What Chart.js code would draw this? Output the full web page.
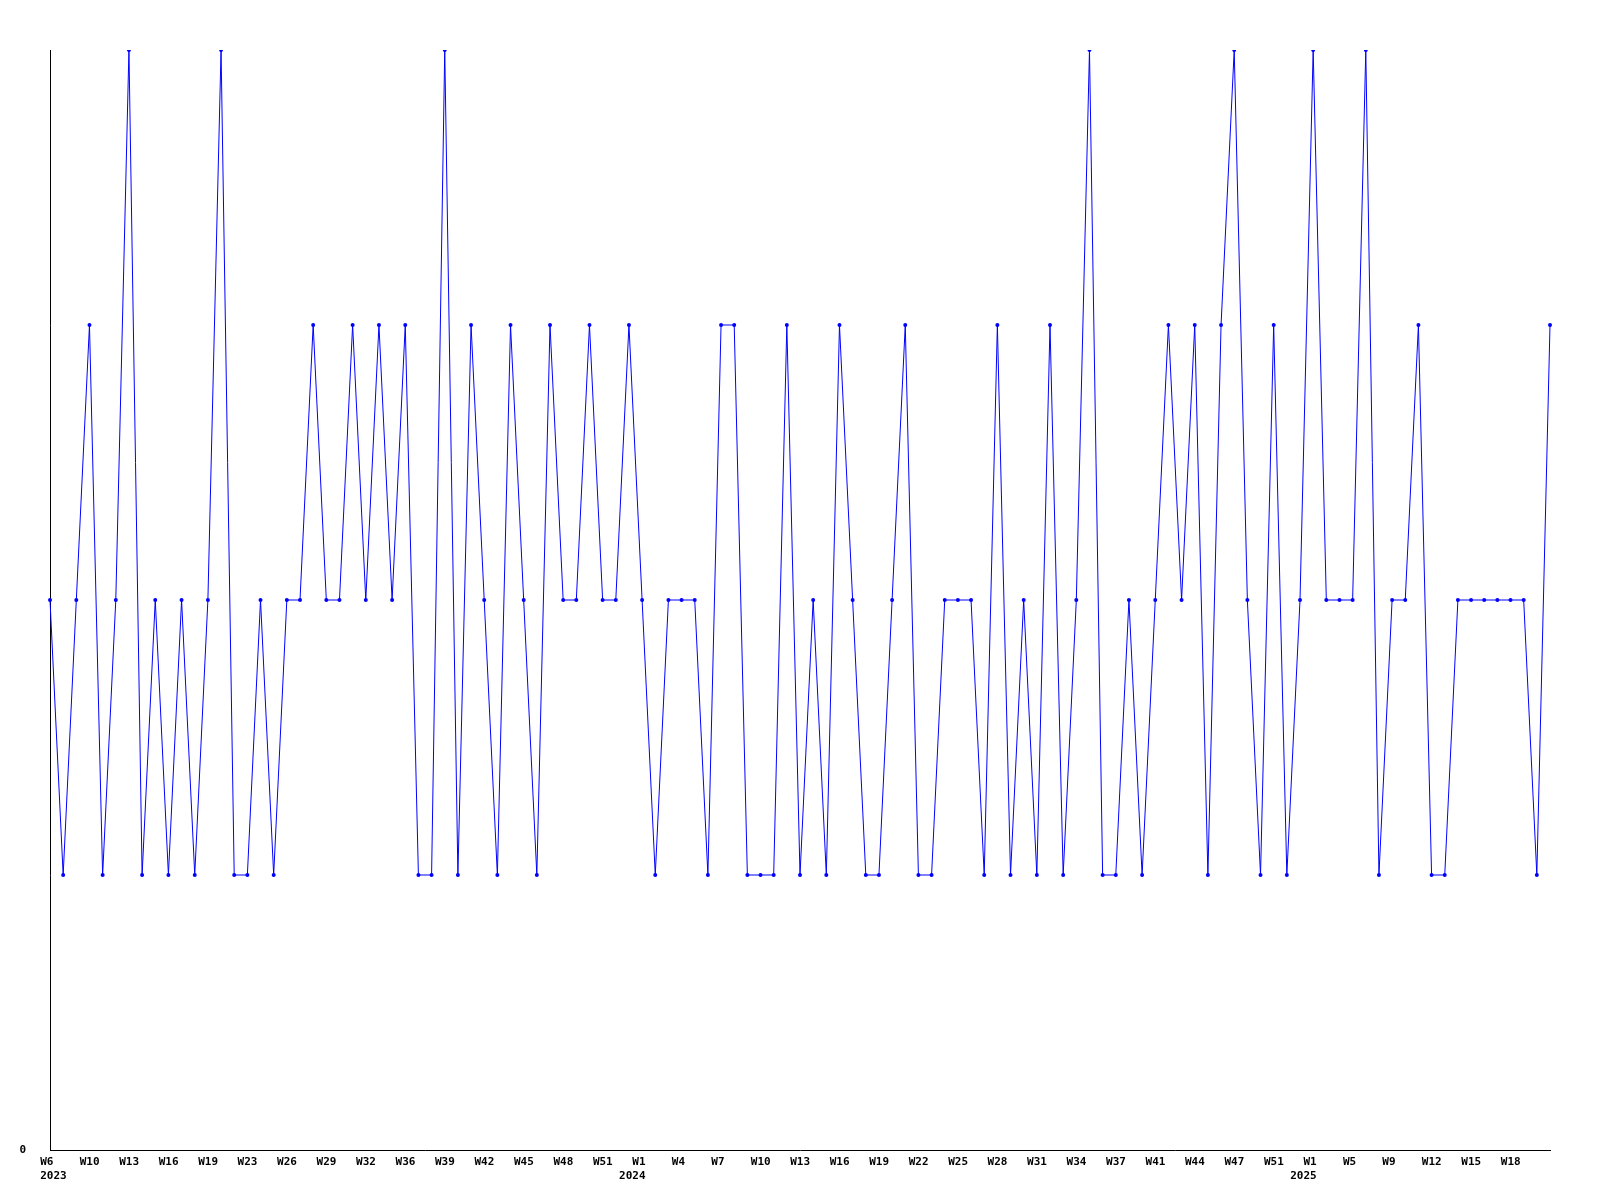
<!DOCTYPE html>
<html>
<head>
<meta charset="utf-8">
<title>Weekly chart</title>
<script src="https://cdn.jsdelivr.net/npm/chart.js@4.4.1/dist/chart.umd.min.js"></script>
<style>
  body { margin: 0; background: #fff; }
  #wrap { width: 1600px; height: 1200px; }
</style>
</head>
<body>
<div id="wrap"><canvas id="myChart" width="1600" height="1200"></canvas></div>
<script>
// tick labels, one for every third week point
const tickLabels = [
    'W6', 'W10', 'W13', 'W16', 'W19', 'W23', 'W26', 'W29', 'W32', 'W36', 'W39', 'W42', 'W45', 'W48', 'W51',
    'W1', 'W4', 'W7', 'W10', 'W13', 'W16', 'W19', 'W22', 'W25', 'W28', 'W31', 'W34', 'W37', 'W41', 'W44', 'W47', 'W51',
    'W1', 'W5', 'W9', 'W12', 'W15', 'W18'
];
// year shown under the tick label with this index
const years = ['2023', '2024', '2025'];
const yearAt = [0, 15, 32];

// values per week
const values = [
    2, 1, 2, 3, 1, 2, 4, 1, 2, 1, 2, 1, 2, 4, 1, 1, 2, 1, 2, 2,
    3, 2, 2, 3, 2, 3, 2, 3, 1, 1, 4, 1, 3, 2, 1, 3, 2, 1, 3, 2,
    2, 3, 2, 2, 3, 2, 1, 2, 2, 2, 1, 3, 3, 1, 1, 1, 3, 1, 2, 1,
    3, 2, 1, 1, 2, 3, 1, 1, 2, 2, 2, 1, 3, 1, 2, 1, 3, 1, 2, 4,
    1, 1, 2, 1, 2, 3, 2, 3, 1, 3, 4, 2, 1, 3, 1, 2, 4, 2, 2, 2,
    4, 1, 2, 2, 3, 1, 1, 2, 2, 2, 2, 2, 2, 1, 3
];

// build category labels: every third point gets a label, year line where needed
let labels = [];
for (let i = 0; i < values.length; i++) {
    let k = i / 3;
    if (i % 3 !== 0 || k >= tickLabels.length) { labels.push(''); continue; }
    let y = yearAt.indexOf(k);
    if (y === -1) {
        labels.push('  ' + tickLabels[k]);
    } else if (k === 0) {
        labels.push(['  ' + tickLabels[k], '  ' + years[y]]);
    } else {
        labels.push(['  ' + tickLabels[k], years[y]]);
    }
}

const tickFont = { family: 'DejaVu Sans Mono', weight: 'bold', size: 11, lineHeight: '14px' };

new Chart('myChart', {
    type: 'line',
    data: {
        labels: labels,
        datasets: [{
            data: values,
            borderColor: '#0000ff',
            backgroundColor: '#0000ff',
            borderWidth: 1,
            tension: 0,
            pointRadius: 2,
            pointBorderWidth: 0,
            pointHoverRadius: 2,
            fill: false
        }]
    },
    options: {
        responsive: false,
        animation: false,
        events: [],
        layout: { padding: { top: 50, right: 50, left: 0, bottom: 0 } },
        plugins: {
            legend: { display: false },
            tooltip: { enabled: false }
        },
        scales: {
            x: {
                type: 'category',
                offset: false,
                grid: { display: false, drawTicks: false },
                border: { display: true, color: '#000', width: 1 },
                ticks: {
                    autoSkip: false,
                    maxRotation: 0,
                    minRotation: 0,
                    align: 'start',
                    labelOffset: -23,
                    padding: 5,
                    color: '#000',
                    font: tickFont
                },
                afterFit: (s) => { s.height = 50; }
            },
            y: {
                min: 0,
                max: 4,
                grid: { display: false, drawTicks: false },
                border: { display: true, color: '#000', width: 1 },
                ticks: {
                    stepSize: 1,
                    padding: 24,
                    color: '#000',
                    font: tickFont,
                    callback: (v) => v === 0 ? '0' : ''
                },
                afterFit: (s) => { s.width = 50; }
            }
        }
    }
});
</script>
</body>
</html>
